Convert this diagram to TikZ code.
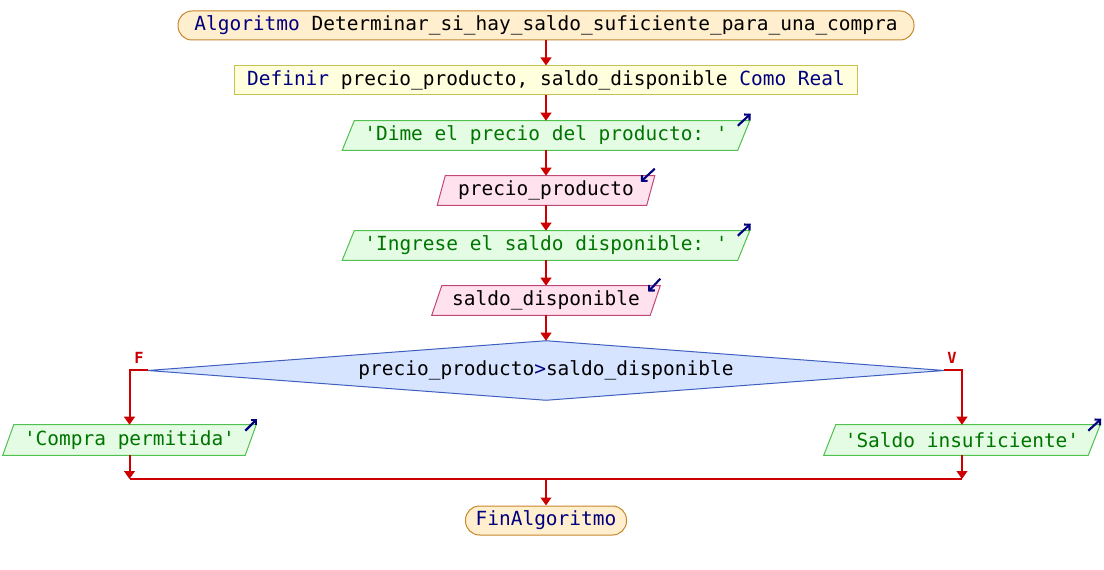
\documentclass[tikz,border=0pt]{standalone}
\usepackage{fontspec}
\setmonofont{DejaVu Sans Mono}
\usetikzlibrary{arrows.meta,backgrounds}
\definecolor{kw}{HTML}{00007F}
\definecolor{str}{HTML}{007400}
\definecolor{flowred}{HTML}{CC0000}
\definecolor{startfill}{HTML}{FFEFCF}
\definecolor{startdraw}{HTML}{C8862A}
\definecolor{deffill}{HTML}{FFFFDD}
\definecolor{defdraw}{HTML}{C8C050}
\definecolor{outfill}{HTML}{E4FCE4}
\definecolor{outdraw}{HTML}{50C050}
\definecolor{infill}{HTML}{FFE2EE}
\definecolor{indraw}{HTML}{C04878}
\definecolor{decfill}{HTML}{D6E4FF}
\definecolor{decdraw}{HTML}{3F5FBF}
\newcommand\myPara[3]{%
  \begin{scope}[on background layer]
    \draw[#3] (#1.south west) -- ([xshift=#2*0.75pt]#1.north west) -- (#1.north east) -- ([xshift=-#2*0.75pt]#1.south east) -- cycle;
  \end{scope}}
\begin{document}
\begin{tikzpicture}[x=0.75pt,y=-0.75pt,
  font=\ttfamily\fontsize{14.6}{17}\selectfont,
  box/.style={inner sep=0pt, minimum width=#1*0.75pt, minimum height=21.75pt},
  startbox/.style={box=#1, draw=startdraw, fill=startfill, line width=0.75pt, rounded corners=10.5pt},
  defbox/.style={box=#1, draw=defdraw, fill=deffill, line width=0.75pt},
  outstyle/.style={draw=outdraw, fill=outfill, line width=0.75pt},
  instyle/.style={draw=indraw, fill=infill, line width=0.75pt},
  flow/.style={draw=flowred, line width=1.5pt, -{Triangle[length=6pt,width=8pt]}},
  plain/.style={draw=flowred, line width=1.5pt},
  iconarrow/.style={draw=kw, line width=1.6pt, -{Straight Barb[length=3pt,width=6pt]}},
  lbl/.style={text=flowred, font=\ttfamily\bfseries\fontsize{11.5}{13}\selectfont, inner sep=0pt}]
\useasboundingbox (0,0) rectangle (1104,570);

% nodes
\node[startbox=736] (start) at (546,25.5) {\color{kw}Algoritmo \color{black}Determinar\_si\_hay\_saldo\_suficiente\_para\_una\_compra};
\node[defbox=623] (def) at (546,80.5) {\color{kw}Definir \color{black}precio\_producto, saldo\_disponible \color{kw}Como Real};
\node[box=407, text=str] (o1) at (546,135.5) {'Dime el precio del producto: '};
\myPara{o1}{12}{outstyle}
\node[box=217] (i1) at (546,190.5) {precio\_producto};
\myPara{i1}{8}{instyle}
\node[box=407, text=str] (o2) at (546,245.5) {'Ingrese el saldo disponible: '};
\myPara{o2}{12}{outstyle}
\node[box=228] (i2) at (546,300.5) {saldo\_disponible};
\myPara{i2}{10}{instyle}
\node[inner sep=0pt, minimum width=597pt, minimum height=44.25pt] (d) at (546,370.5) {precio\_producto\textcolor{kw}{>}saldo\_disponible};
\begin{scope}[on background layer]
  \draw[draw=decdraw, fill=decfill, line width=0.75pt] (d.west) -- (d.north) -- (d.east) -- (d.south) -- cycle;
\end{scope}
\node[box=253, minimum height=22.5pt, text=str] (c) at (129.5,440) {'Compra permitida'};
\myPara{c}{11}{outstyle}
\node[box=276, minimum height=22.5pt, text=str] (s) at (962,440) {'Saldo insuficiente'};
\myPara{s}{12}{outstyle}
\node[startbox=161] (fin) at (546,520.5) {\color{kw}FinAlgoritmo};

\node[lbl] (fl) at (139,358) {F};
\node[lbl] (vl) at (952,358) {V};

\coordinate (m) at (546,479);

% connectors
\draw[flow] (start) -- (def);
\draw[flow] (def) -- (o1);
\draw[flow] (o1) -- (i1);
\draw[flow] (i1) -- (o2);
\draw[flow] (o2) -- (i2);
\draw[flow] (i2) -- (d);
\draw[flow] (d.west) -| (c.north);
\draw[flow] (d.east) -| (s.north);
\draw[flow] (c.south) -- (c.south |- m);
\draw[flow] (s.south) -- (s.south |- m);
\draw[plain] (c.south |- m) -- (s.south |- m);
\draw[flow] (m) -- (fin.north);

% io icons
\draw[iconarrow] ([shift={(-12,5)}]o1.north east) -- ([shift={(1,-7)}]o1.north east);
\draw[iconarrow] ([shift={(-12,5)}]o2.north east) -- ([shift={(1,-7)}]o2.north east);
\draw[iconarrow] ([shift={(-11,6)}]c.north east) -- ([shift={(1,-6)}]c.north east);
\draw[iconarrow] ([shift={(-12,6)}]s.north east) -- ([shift={(1,-6)}]s.north east);
\draw[iconarrow] ([shift={(0,-7)}]i1.north east) -- ([shift={(-14,6)}]i1.north east);
\draw[iconarrow] ([shift={(0,-7)}]i2.north east) -- ([shift={(-12,6)}]i2.north east);
\end{tikzpicture}
\end{document}
